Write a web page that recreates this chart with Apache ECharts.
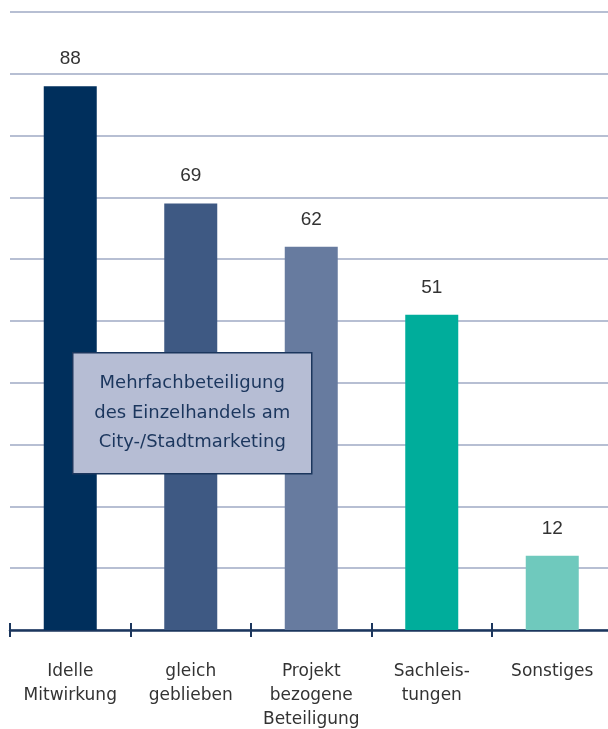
<!DOCTYPE html>
<html>
<head>
<meta charset="utf-8">
<script src="https://cdn.jsdelivr.net/npm/echarts@6/dist/echarts.min.js"></script>
<style>
  html, body { margin: 0; padding: 0; background: #ffffff; }
  #chart { width: 608px; height: 729px; }
</style>
</head>
<body>
<div id="chart"></div>
<script>
// Categories and values
const categories = ['Idelle\nMitwirkung', 'gleich\ngeblieben', 'Projekt\nbezogene\nBeteiligung', 'Sachleis-\ntungen', 'Sonstiges'];
const values = [88, 69, 62, 51, 12];
const barColors = ['#002f5c', '#3e5983', '#677b9f', '#00ad9b', '#6fc9bd'];
const noteLines = ['Mehrfachbeteiligung', 'des Einzelhandels am', 'City-/Stadtmarketing'];

const FONT = 'DejaVu Sans';
const NAVY = '#1b365d';

const chart = echarts.init(document.getElementById('chart'), null, { renderer: 'canvas' });

chart.setOption({
  animation: false,
  backgroundColor: '#ffffff',
  grid: { left: 10, right: -4.5, top: 12, bottom: 99, containLabel: false, outerBoundsMode: 'none' },
  xAxis: [
    {
      type: 'category',
      data: categories,
      boundaryGap: true,
      axisLine: { show: true, lineStyle: { color: NAVY, width: 2.5 } },
      axisTick: { show: true, length: 7, lineStyle: { color: NAVY, width: 2 } },
      axisLabel: {
        interval: 0,
        margin: 30,
        fontFamily: FONT,
        fontSize: 17,
        lineHeight: 24,
        color: '#333333'
      }
    },
    {
      type: 'category',
      data: categories,
      position: 'bottom',
      boundaryGap: true,
      axisLine: { show: false },
      axisTick: { show: true, inside: true, length: 7, lineStyle: { color: NAVY, width: 2 } },
      axisLabel: { show: false }
    }
  ],
  yAxis: {
    type: 'value',
    min: 0,
    max: 100,
    interval: 10,
    axisLine: { show: false },
    axisTick: { show: false },
    axisLabel: { show: false },
    splitLine: { show: true, lineStyle: { color: '#b7bfd3', width: 2 } }
  },
  series: [{
    type: 'bar',
    data: values.map((v, i) => ({ value: v, itemStyle: { color: barColors[i] } })),
    barWidth: 53,
    label: {
      show: true,
      position: 'top',
      distance: 18,
      fontFamily: 'Liberation Sans',
      fontSize: 19,
      color: '#333333'
    }
  }],
  graphic: [{
    type: 'group',
    left: 72,
    top: 352,
    z: 100,
    children: [
      {
        type: 'rect',
        z: 100,
        shape: { x: 0, y: 0, width: 239, height: 121 },
        style: { fill: '#b6bdd4', stroke: NAVY, lineWidth: 1.5 }
      },
      {
        type: 'text',
        z: 101,
        x: 119.5,
        y: 60.5,
        style: {
          text: noteLines.join('\n'),
          align: 'center',
          verticalAlign: 'middle',
          fontFamily: FONT,
          fontSize: 18,
          lineHeight: 29.5,
          fill: NAVY
        }
      }
    ]
  }]
});
</script>
</body>
</html>
